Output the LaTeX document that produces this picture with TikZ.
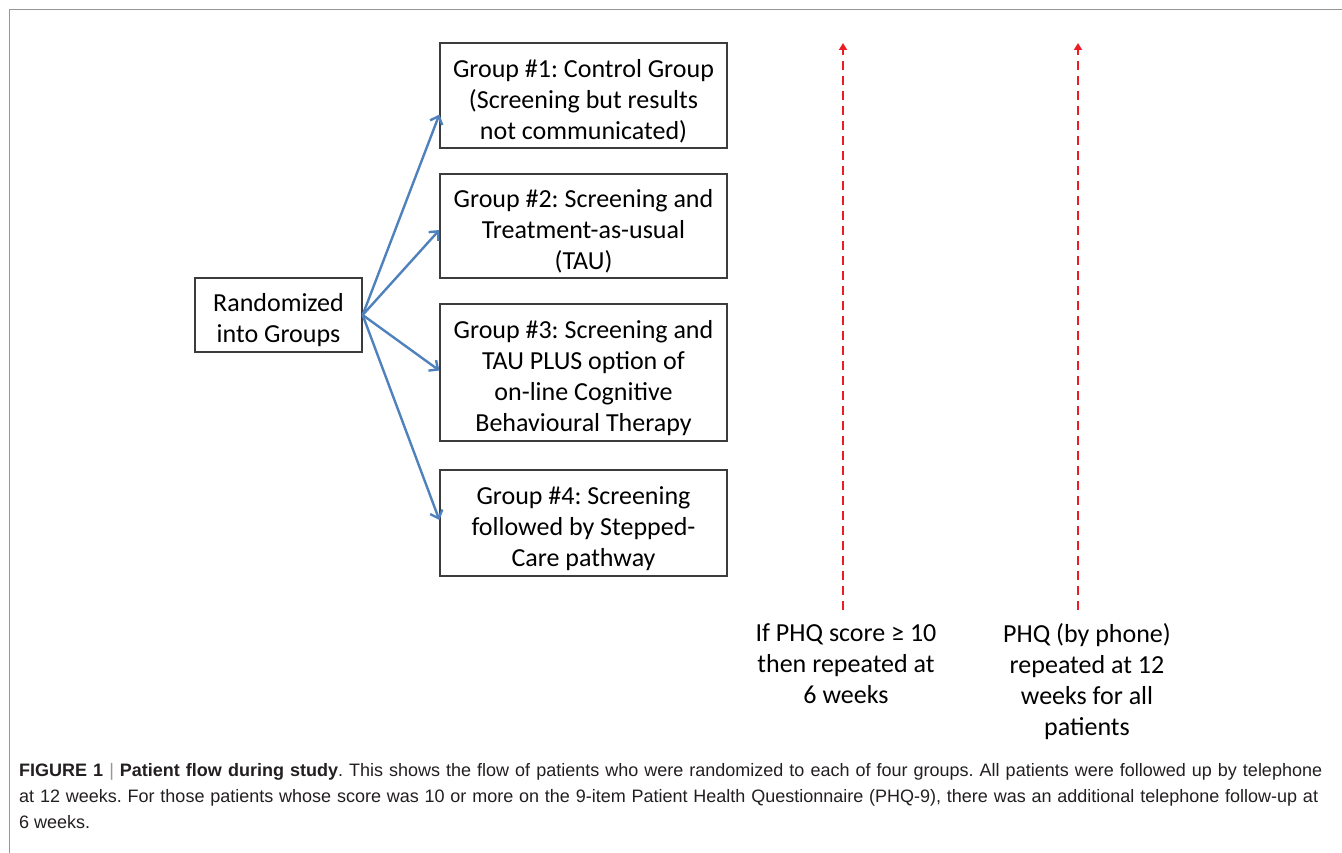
\documentclass[tikz,border=0pt]{standalone}
\usepackage{fontspec}
\setmainfont{Carlito}
\newfontfamily\capfont{Liberation Sans}
\usepackage{tikz}
\usetikzlibrary{arrows.meta,positioning}
\definecolor{flowblue}{RGB}{79,129,189}
\definecolor{phqred}{RGB}{236,28,36}
\definecolor{boxline}{RGB}{60,60,60}
\definecolor{framegray}{RGB}{150,150,150}
\definecolor{captext}{RGB}{35,31,32}
\newcommand{\toppad}{\rule{0pt}{29pt}}
\frenchspacing

\begin{document}
\begin{tikzpicture}[x=1pt,y=-1pt,
    every node/.style={font=\fontsize{26}{31}\selectfont},
    groupbox/.style={draw=boxline,line width=1.3pt,align=center,inner sep=0pt},
    randarrow/.style={-{Straight Barb[length=7pt,width=13pt]},line width=2.4pt,flowblue},
    phqarrow/.style={-{Triangle[length=7pt,width=8pt]},line width=2.6pt,phqred,
      dash pattern=on 9pt off 6pt},
    phqtext/.style={align=center,anchor=north},
    captionline/.style={anchor=base west,inner sep=0pt,text=captext,
      font=\capfont\fontsize{18}{26}\selectfont}]
        \useasboundingbox (0,0) rectangle (1342,853);
        % frame of the figure
        \draw[framegray,line width=1pt] (9,853) |- (1342,10);
        % randomisation and the four groups
        \node[groupbox,minimum width=167pt,minimum height=74pt]
          (rand) at (278.5,315) {\toppad Randomized\\into Groups};
        \node[groupbox,minimum width=287pt,minimum height=105pt]
          (g1) at (583.5,95.5) {\toppad Group \#1: Control Group\\(Screening but results\\not communicated)};
        \node[groupbox,minimum width=287pt,minimum height=104pt]
          (g2) at (583.5,226) {\toppad Group \#2: Screening and\\Treatment-as-usual\\(TAU)};
        \node[groupbox,minimum width=287pt,minimum height=137pt]
          (g3) at (583.5,372.5) {\toppad Group \#3: Screening and\\TAU PLUS option of\\on-line Cognitive\\Behavioural Therapy};
        \node[groupbox,minimum width=287pt,minimum height=106pt]
          (g4) at (583.5,523) {\toppad Group \#4: Screening\\followed by Stepped-\\Care pathway};
        \draw[randarrow] (rand.east) -- ([yshift=-19pt]g1.west);
        \draw[randarrow] (rand.east) -- ([yshift=-4pt]g2.west);
        \draw[randarrow] (rand.east) -- ([yshift=2pt]g3.west);
        \draw[randarrow] (rand.east) -- ([yshift=3pt]g4.west);
        % follow-up time lines
        \coordinate (wk6bot) at (843,610);
        \coordinate (wk6top) at (843,43);
        \coordinate (wk12bot) at (1078,610);
        \coordinate (wk12top) at (1078,43);
        \draw[phqarrow] (wk6bot) -- (wk6top);
        \draw[phqarrow] (wk12bot) -- (wk12top);
        \node[phqtext] (wk6) at (846,620) {If PHQ score ≥ 10\\then repeated at\\6 weeks};
        \node[phqtext] (wk12) at (1087,620) {PHQ (by phone)\\repeated at 12\\weeks for all\\patients};
        % caption
        \node[captionline] (cap1) at (19,776) {\makebox[1303pt][s]{\textbf{FIGURE 1} {\color{framegray}|} \textbf{Patient flow during study}. This shows the flow of patients who were randomized to each of four groups. All patients were followed up by telephone}};
        \node[captionline] (cap2) at (19,802) {\makebox[1299pt][s]{at 12 weeks. For those patients whose score was 10 or more on the 9-item Patient Health Questionnaire (PHQ-9), there was an additional telephone follow-up at}};
        \node[captionline] (cap3) at (19,828) {6 weeks.};
      \end{tikzpicture}
\end{document}
